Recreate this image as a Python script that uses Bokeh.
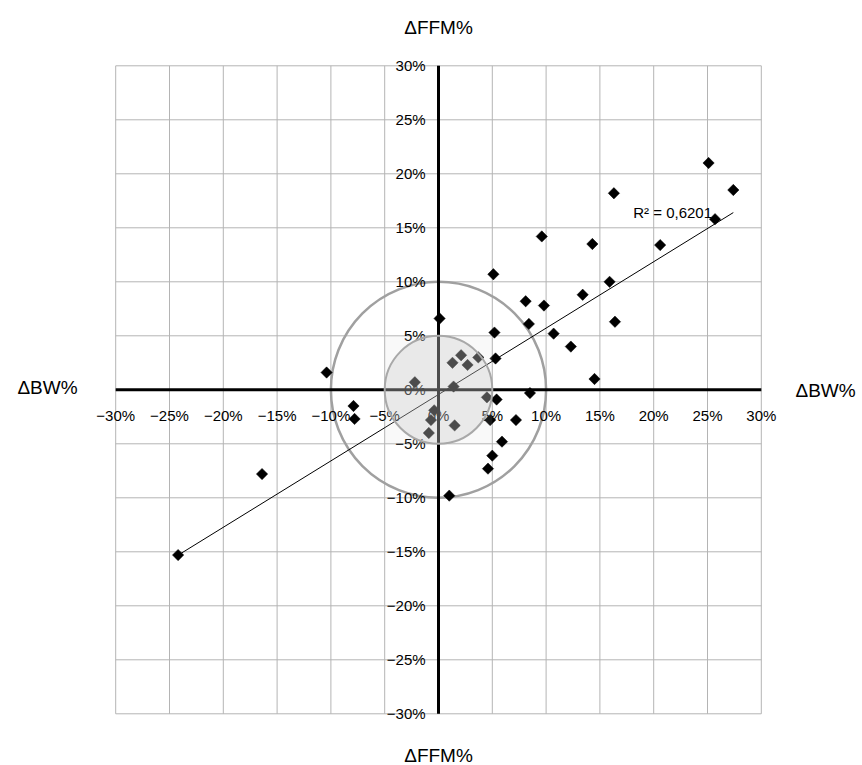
import numpy as np
from bokeh.plotting import figure
from bokeh.models import Range1d, ColumnDataSource
from bokeh.core.properties import value
from bokeh.embed import file_html
from bokeh.resources import INLINE

# Data (percent)
bw = [-24.2, -16.4, -10.4, -7.9, -7.8, -2.2, -0.4, -0.7, -0.9, 1.5, 1.4, 1.3, 2.1, 2.7, 3.7,
      0.1, 1.0, 4.5, 4.8, 5.4, 5.3, 5.2, 5.1, 5.9, 5.0, 4.6, 7.2, 8.5, 8.4, 8.1, 9.8, 9.6,
      10.7, 12.3, 13.4, 14.3, 14.5, 15.9, 16.3, 16.4, 20.6, 25.1, 25.7, 27.4]
ffm = [-15.3, -7.8, 1.6, -1.5, -2.7, 0.7, -1.9, -2.8, -4.0, -3.3, 0.3, 2.5, 3.2, 2.3, 3.0,
       6.6, -9.8, -0.7, -2.8, -0.9, 2.9, 5.3, 10.7, -4.8, -6.1, -7.3, -2.8, -0.3, 6.1, 8.2, 7.8, 14.2,
       5.2, 4.0, 8.8, 13.5, 1.0, 10.0, 18.2, 6.3, 13.4, 21.0, 15.8, 18.5]
ticks = [-30, -25, -20, -15, -10, -5, 0, 5, 10, 15, 20, 25, 30]
tick_labels = ["\u221230%", "\u221225%", "\u221220%", "\u221215%", "\u221210%", "\u22125%", "0%",
               "5%", "10%", "15%", "20%", "25%", "30%"]
r2_text = "R\u00b2 = 0,6201"
x_title = "\u0394BW%"
y_title = "\u0394FFM%"

FONT = value("Liberation Sans")

W, H = 862, 765
X0, Y0, SX, SY = 438.0, 389.3, 10.76, 10.8
p = figure(width=W, height=H, output_backend="svg", toolbar_location=None,
           x_range=Range1d(-X0 / SX, (W - X0) / SX),
           y_range=Range1d(-(H - Y0) / SY, Y0 / SY),
           min_border=0)
p.axis.visible = False
p.grid.visible = False
p.outline_line_color = None
p.background_fill_color = "white"

t = np.array(ticks, dtype=float)
lo, hi = t.min(), t.max()
# grid
p.segment(x0=t, y0=np.full_like(t, lo), x1=t, y1=np.full_like(t, hi), line_color="#b4b4b4", line_width=1)
p.segment(x0=np.full_like(t, lo), y0=t, x1=np.full_like(t, hi), y1=t, line_color="#b4b4b4", line_width=1)

# big circle (10%)
p.ellipse(x=[0], y=[0], width=[20], height=[20], fill_color=None, line_color="#a0a0a0", line_width=2.5)

# zero axes
p.segment(x0=[lo], y0=[0], x1=[hi], y1=[0], line_color="black", line_width=3)
p.segment(x0=[0], y0=[lo], x1=[0], y1=[hi], line_color="black", line_width=3)

# tick labels
src_y = ColumnDataSource(dict(x=[-1.2] * len(ticks), y=ticks, text=tick_labels))
p.text(x="x", y="y", text="text", source=src_y, text_align="right", text_baseline="middle",
       text_font=FONT, text_font_size="15px", text_color="black")
src_x = ColumnDataSource(dict(x=ticks, y=[-2.35] * len(ticks), text=tick_labels))
p.text(x="x", y="y", text="text", source=src_x, text_align="center", text_baseline="middle",
       text_font=FONT, text_font_size="15px", text_color="black")

# points
p.scatter(x=bw, y=ffm, marker="square", size=8, angle=np.pi / 4,
          fill_color="black", line_color="black", line_width=0.5)

# regression
xa, ya = np.array(bw), np.array(ffm)
m, b = np.polyfit(xa, ya, 1)
xs = np.array([xa.min(), xa.max()])
p.line(x=xs, y=m * xs + b, line_color="black", line_width=1)
p.text(x=[18.1], y=[16.45], text=[r2_text], text_align="left", text_baseline="middle",
       text_font=FONT, text_font_size="15px")

# inner zone
p.rect(x=[0], y=[0], width=[10], height=[10], fill_color="#d0d0d0", fill_alpha=0.12, line_color=None)
p.ellipse(x=[0], y=[0], width=[10], height=[10], fill_color="#c2c2c2", fill_alpha=0.3,
          line_color="#a8a8a8", line_width=2)

# axis titles
p.text(x=[0], y=[33.55], text=[y_title], text_align="center", text_baseline="middle",
       text_font=FONT, text_font_size="19px")
p.text(x=[0], y=[-33.85], text=[y_title], text_align="center", text_baseline="middle",
       text_font=FONT, text_font_size="19px")
p.text(x=[-36.34], y=[0.17], text=[x_title], text_align="center", text_baseline="middle",
       text_font=FONT, text_font_size="19px")
p.text(x=[35.97], y=[-0.1], text=[x_title], text_align="center", text_baseline="middle",
       text_font=FONT, text_font_size="19px")

open("out.html", "w").write(file_html(p, INLINE))
